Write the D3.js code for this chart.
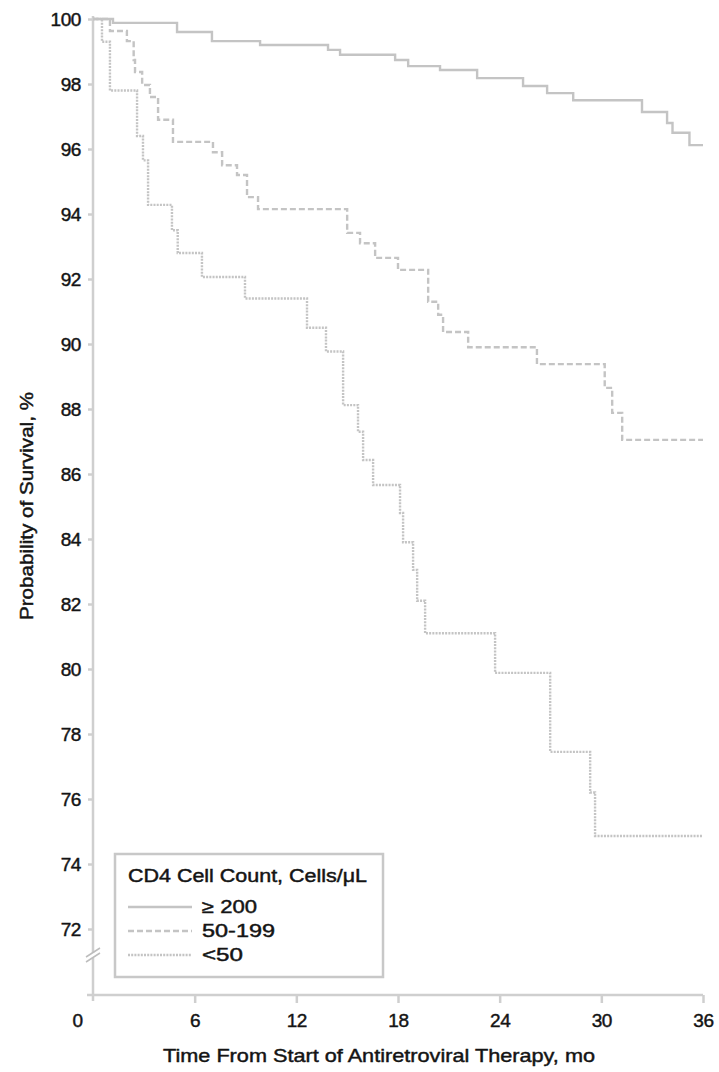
<!DOCTYPE html>
<html>
<head>
<meta charset="utf-8">
<script src="https://cdn.jsdelivr.net/npm/d3@7"></script>
<style>
  body { margin: 0; background: #fff; }
  text { font-family: "Liberation Sans", Arial, sans-serif; fill: #141414; stroke: #141414; stroke-width: 0.45px; }
</style>
</head>
<body>
<svg id="chart" width="719" height="1072"></svg>
<script>
// ! CHART DATA (months, survival %)
const seriesNames = ["≥ 200", "50-199", "<50"];

const cd4High = [
  [0, 100], [1.18, 99.88], [4.96, 99.6], [7.02, 99.32], [9.86, 99.2], [13.87, 99.05],
  [14.58, 98.9], [17.83, 98.74], [18.6, 98.55], [20.48, 98.43], [22.67, 98.18],
  [25.38, 97.94], [26.8, 97.72], [28.34, 97.5], [32.4, 97.14], [33.88, 96.8],
  [34.2, 96.5], [35.2, 96.12], [36, 96.12]
];

const cd4Mid = [
  [0, 100], [1.0, 99.63], [2.0, 99.32], [2.4, 98.74], [2.48, 98.37], [2.9, 97.97],
  [3.36, 97.6], [3.84, 96.9], [4.72, 96.22], [7.08, 95.9], [7.62, 95.5], [8.5, 95.2],
  [9.09, 94.52], [9.74, 94.15], [15.0, 93.42], [15.76, 93.1], [16.65, 92.65],
  [18.0, 92.28], [19.78, 91.3], [20.37, 90.9], [20.66, 90.37], [22.14, 89.9],
  [26.2, 89.38], [30.2, 88.65], [30.64, 87.88], [31.23, 87.05], [36, 87.05]
];

const cd4Low = [
  [0, 100], [0.53, 99.3], [1.0, 97.8], [2.6, 96.4], [2.95, 95.65], [3.25, 94.28],
  [4.66, 93.5], [5.0, 92.8], [6.43, 92.06], [8.97, 91.4], [12.63, 90.5], [13.75, 89.77],
  [14.76, 88.12], [15.64, 87.3], [15.94, 86.43], [16.53, 85.66], [18.12, 84.8],
  [18.3, 83.9], [18.89, 83.05], [19.13, 82.1], [19.6, 81.1], [23.73, 79.88],
  [26.98, 77.45], [29.34, 76.2], [29.63, 74.86], [36, 74.86]
];

const xTicks = [0, 6, 12, 18, 24, 30, 36];
const yTicks = [72, 74, 76, 78, 80, 82, 84, 86, 88, 90, 92, 94, 96, 98, 100];

const svg = d3.select("#chart");
const axisColor = "#cfcfcf";
const lineColor = "#c4c4c4";

const x = d3.scaleLinear().domain([0, 36]).range([93, 703]);
const y = d3.scaleLinear().domain([72, 100]).range([929, 19]);
const baseY = 995;

// ! AXES
const yAxis = svg.append("g").attr("transform", "translate(93,0)")
  .call(d3.axisLeft(y).tickValues(yTicks).tickSize(5).tickPadding(7));
const xAxis = svg.append("g").attr("transform", `translate(0,${baseY})`)
  .call(d3.axisBottom(x).tickValues(xTicks).tickSize(8).tickPadding(11));

[yAxis, xAxis].forEach(a => {
  a.select(".domain").remove();
  a.selectAll(".tick line").attr("stroke", axisColor).attr("stroke-width", 2.5);
  a.selectAll(".tick text").style("font-size", "19px").style("letter-spacing", "-0.4px")
    .attr("fill", "#141414");
});
xAxis.selectAll(".tick").filter(d => d === 0).select("line").remove();
xAxis.selectAll(".tick").filter(d => d === 0).select("text").attr("dx", -16);

// axis lines with break
svg.append("line").attr("x1", 93).attr("x2", 93).attr("y1", 16).attr("y2", baseY + 6)
  .attr("stroke", axisColor).attr("stroke-width", 2.5);
svg.append("line").attr("x1", 87).attr("x2", 703).attr("y1", baseY).attr("y2", baseY)
  .attr("stroke", axisColor).attr("stroke-width", 2.5);
svg.append("rect").attr("x", 90).attr("y", 953).attr("width", 6).attr("height", 5).attr("fill", "#fff");
[0, 5].forEach(o => {
  svg.append("line").attr("x1", 86).attr("y1", 960 + o - 3).attr("x2", 100).attr("y2", 951 + o - 3)
    .attr("stroke", "#bdbdbd").attr("stroke-width", 1.5);
});

// ! CURVES
const line = d3.line().x(d => x(d[0])).y(d => y(d[1])).curve(d3.curveStepAfter);
const styles = [
  { data: cd4High, dash: null },
  { data: cd4Mid, dash: "6,3" },
  { data: cd4Low, dash: "2,1.2" }
];
styles.forEach(s => {
  svg.append("path").datum(s.data).attr("d", line)
    .attr("fill", "none").attr("stroke", lineColor).attr("stroke-width", 2.4)
    .attr("stroke-dasharray", s.dash);
});

// ! LEGEND
const lg = svg.append("g");
lg.append("rect").attr("x", 115).attr("y", 854).attr("width", 268).attr("height", 123)
  .attr("fill", "#fff").attr("stroke", "#c8c8c8").attr("stroke-width", 2.5);
lg.append("text").attr("x", 128).attr("y", 882).style("font-size", "18px")
  .attr("textLength", 239).attr("lengthAdjust", "spacingAndGlyphs")
  .text("CD4 Cell Count, Cells/μL");
const labelWidths = [55, 73, 41];
seriesNames.forEach((n, i) => {
  const ly = 907 + i * 24;
  lg.append("line").attr("x1", 128).attr("x2", 192).attr("y1", ly).attr("y2", ly)
    .attr("stroke", lineColor).attr("stroke-width", 2.4).attr("stroke-dasharray", styles[i].dash);
  lg.append("text").attr("x", 202).attr("y", ly + 6).style("font-size", "18px")
    .attr("textLength", labelWidths[i]).attr("lengthAdjust", "spacingAndGlyphs").text(n);
});

// ! AXIS TITLES
svg.append("text").attr("x", 163).attr("y", 1062)
  .style("font-size", "19px").attr("textLength", 432).attr("lengthAdjust", "spacingAndGlyphs")
  .text("Time From Start of Antiretroviral Therapy, mo");
svg.append("text").attr("transform", "translate(33,620) rotate(-90)")
  .style("font-size", "18px").attr("textLength", 228).attr("lengthAdjust", "spacingAndGlyphs")
  .text("Probability of Survival, %");
</script>
</body>
</html>
